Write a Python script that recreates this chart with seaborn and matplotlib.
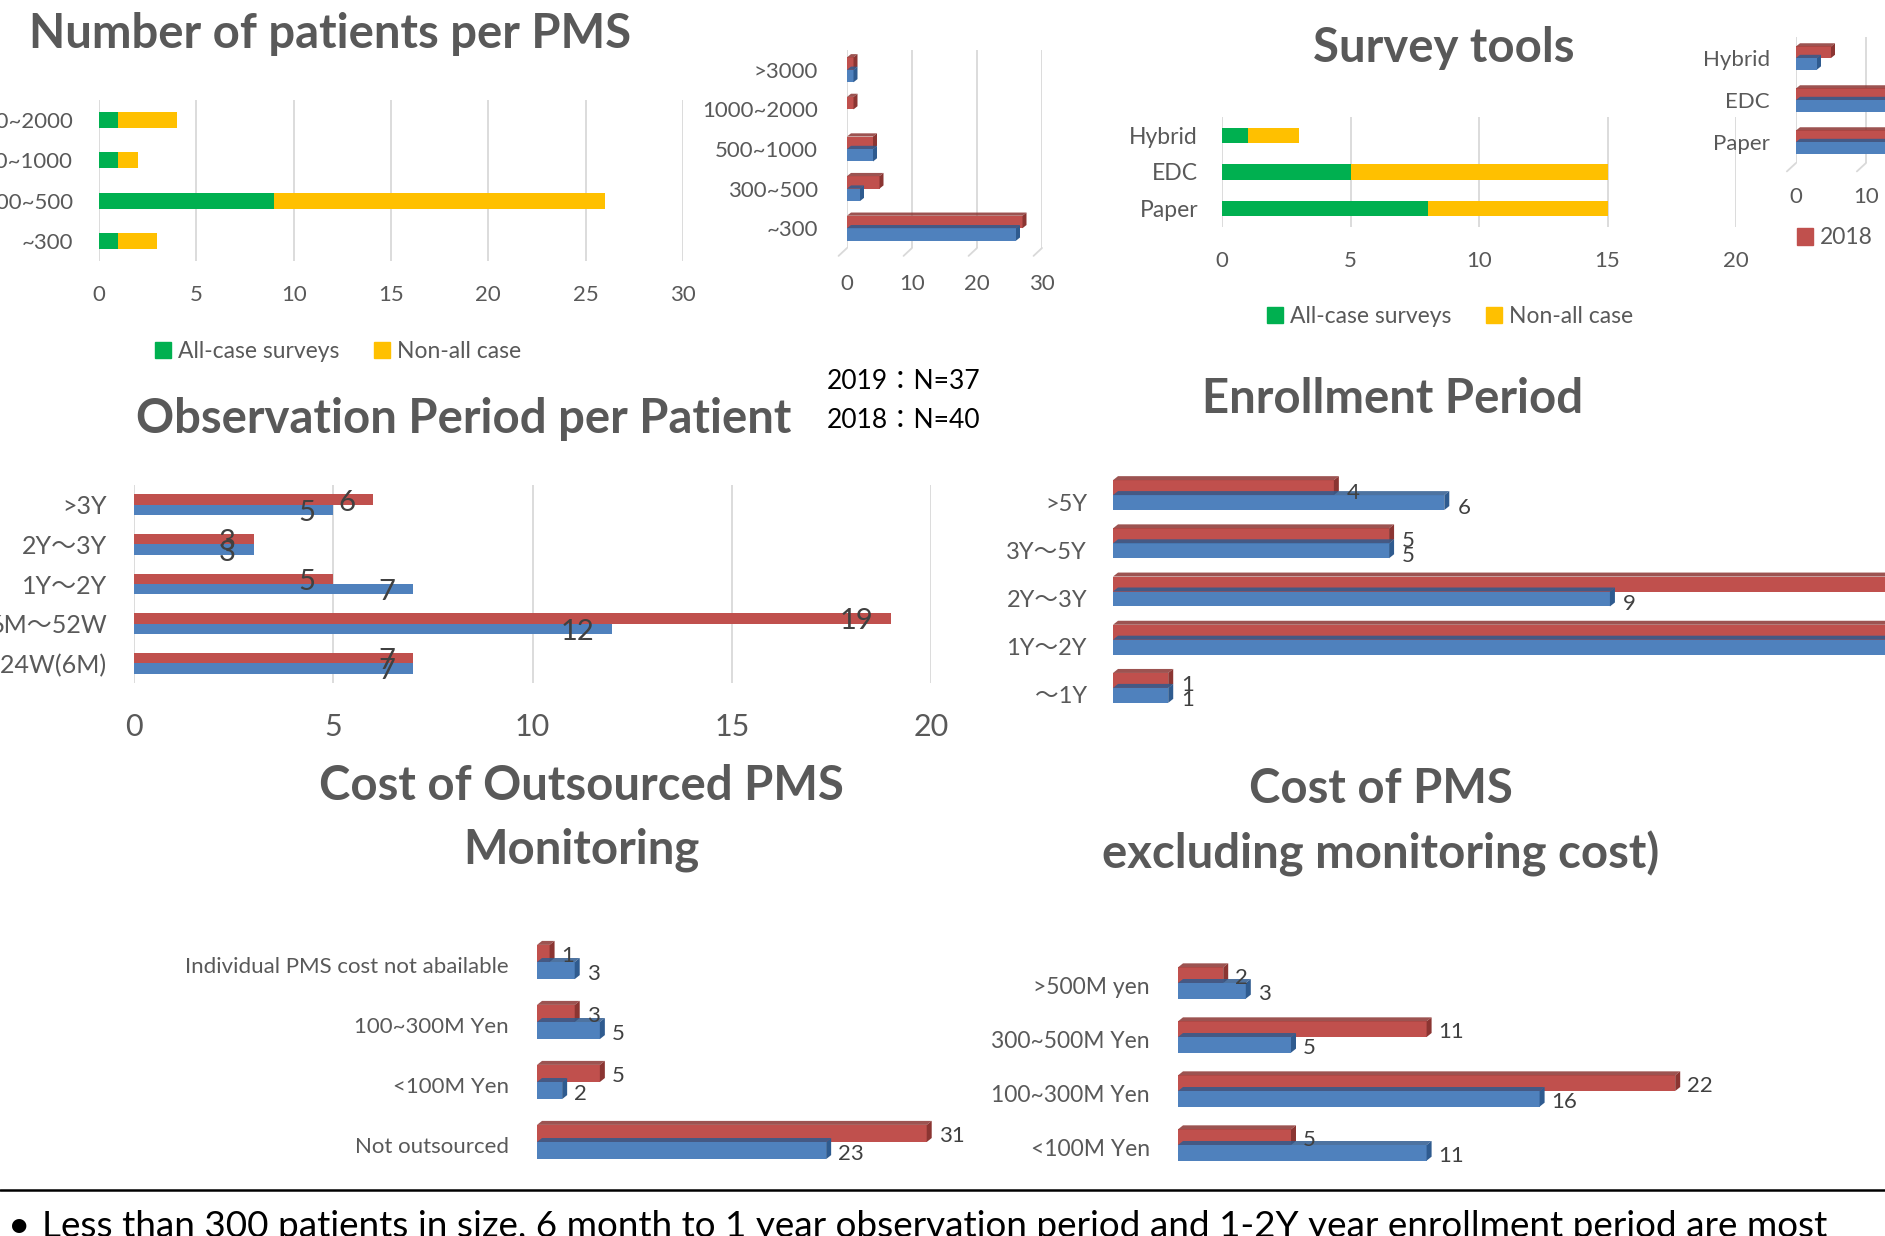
import pandas as pd
import seaborn as sns
import matplotlib.pyplot as plt
from matplotlib.patches import Patch, Polygon
from matplotlib.lines import Line2D
from matplotlib.transforms import ScaledTranslation

sns.set_theme(style="white")
plt.rcParams['font.family'] = ['Lato', 'Noto Sans CJK JP', 'DejaVu Sans']

# ---------------- data ----------------
size_cats = ['1000~2000', '500~1000', '300~500', '~300']
size_allcase = [1, 1, 9, 1]
size_nonall = [3, 1, 17, 2]

size3d_cats = ['>3000', '1000~2000', '500~1000', '300~500', '~300']
size3d_2018 = [1, 1, 4, 5, 27]
size3d_2019 = [1, 0, 4, 2, 26]

tool_cats = ['Hybrid', 'EDC', 'Paper']
tool_allcase = [1, 5, 8]
tool_nonall = [2, 10, 7]
tool_2018 = [5, 17, 18]
tool_2019 = [3, 15, 15]

obs_cats = ['>3Y', '2Y～3Y', '1Y～2Y', '6M～52W', '～24W(6M)']
obs_2018 = [6, 3, 5, 19, 7]
obs_2019 = [5, 3, 7, 12, 7]

enr_cats = ['>5Y', '3Y～5Y', '2Y～3Y', '1Y～2Y', '～1Y']
enr_2018 = [4, 5, 14, 16, 1]
enr_2019 = [6, 5, 9, 16, 1]

out_cats = ['Individual PMS cost not abailable', '100~300M Yen', '<100M Yen', 'Not outsourced']
out_2018 = [1, 3, 5, 31]
out_2019 = [3, 5, 2, 23]

pms_cats = ['>500M yen', '300~500M Yen', '100~300M Yen', '<100M Yen']
pms_2018 = [2, 11, 22, 5]
pms_2019 = [3, 5, 16, 11]

years = ['2018', '2019']

# ---------------- style ----------------
GREEN, YELLOW = '#00B050', '#FFC000'
RED, BLUE = '#C0504D', '#4F81BD'
RED_D, BLUE_D = '#8B3532', '#2F5B8F'
GRAY = '#595959'
LBL = '#404040'
GRID = '#D9D9D9'

W, H = 1885, 1236
fig = plt.figure(figsize=(W / 100, H / 100), dpi=100)
fig.patch.set_facecolor('white')


def px_axes(x0, y0, x1, y1):
    ax = fig.add_axes([x0 / W, 1 - y1 / H, (x1 - x0) / W, (y1 - y0) / H])
    ax.set_facecolor('none')
    return ax


def pt(px):
    return px * 72 / 100


def clean(ax, ysize, ypad, xsize=None, xpad=0, grid=True):
    sns.despine(ax=ax, left=True, bottom=True, top=True, right=True)
    ax.set_xlabel('')
    ax.set_ylabel('')
    ax.tick_params(axis='y', length=0, pad=pt(ypad), labelsize=ysize, labelcolor=GRAY)
    if xsize:
        ax.tick_params(axis='x', length=0, pad=pt(xpad), labelsize=xsize, labelcolor=GRAY)
    else:
        ax.set_xticks([])
    if grid:
        ax.grid(axis='x', color=GRID, lw=1.3)
        ax.set_axisbelow(True)


def shift_ylabels(ax, dy):
    off = ScaledTranslation(0, -dy / 100, fig.dpi_scale_trans)
    for lab in ax.get_yticklabels():
        lab.set_transform(lab.get_transform() + off)


def stacked(ax, cats, a, b, xmax, step, width):
    tot = [i + j for i, j in zip(a, b)]
    sns.barplot(x=tot, y=cats, color=YELLOW, width=width, saturation=1, linewidth=0, ax=ax)
    sns.barplot(x=a, y=cats, color=GREEN, width=width, saturation=1, linewidth=0, ax=ax)
    ax.set_xlim(0, xmax)
    ax.set_ylim(len(cats) - 0.5, -0.5)
    ax.set_xticks(range(0, xmax + 1, step))


def paired(ax, cats, r, b, width):
    df = pd.DataFrame({'cat': cats * 2, 'val': r + b,
                       'year': [years[0]] * len(cats) + [years[1]] * len(cats)})
    sns.barplot(data=df, x='val', y='cat', hue='year', hue_order=years,
                palette={years[0]: RED, years[1]: BLUE}, width=width,
                saturation=1, linewidth=0, legend=False, ax=ax)
    ax.set_ylim(len(cats) - 0.5, -0.5)


def bevel(ax, wpx, hpx, d=4):
    # fake 3D: top and side faces, sizes in pixels
    x0, x1 = ax.get_xlim()
    y0, y1 = ax.get_ylim()
    dx = d * (x1 - x0) / wpx
    dy = d * 0.8 * abs(y1 - y0) / hpx
    for p in list(ax.patches):
        w, y, h = p.get_width(), p.get_y(), p.get_height()
        if w <= 0:
            continue
        dark = RED_D if p.get_facecolor()[0] > 0.6 else BLUE_D
        side = Polygon([(w, y), (w + dx, y - dy), (w + dx, y + h - dy), (w, y + h)],
                       closed=True, fc=dark, ec='none', clip_on=False)
        top = Polygon([(0, y), (w, y), (w + dx, y - dy), (dx, y - dy)],
                      closed=True, fc=dark, ec='none', clip_on=False, alpha=0.85)
        ax.add_patch(side)
        ax.add_patch(top)
    ax.set_xlim(x0, x1)
    ax.set_ylim(y0, y1)


def floor(ax, ticks, dxu, dyu):
    xl, yl = ax.get_xlim(), ax.get_ylim()
    yb = yl[0]
    for t in ticks:
        ax.plot([t, t - dxu], [yb, yb + dyu], color=GRID, lw=1.3, clip_on=False)
    ax.set_xlim(xl)
    ax.set_ylim(yl)


def values(ax, cats, r, b, dx, dy, size, ha='left'):
    bars = [p for p in ax.patches][:2 * len(cats)]
    for p, v in zip(bars, r + b):
        ax.annotate(str(v), (p.get_width(), p.get_y() + p.get_height() / 2),
                    xytext=(dx, -dy), textcoords='offset pixels', ha=ha, va='center',
                    fontsize=size, color=LBL, annotation_clip=False)


def title(x, y, s, size=34):
    fig.text(x / W, 1 - y / H, s, ha='center', va='center', fontsize=size,
             fontweight='bold', color=GRAY, linespacing=1.55)


def legend_green(x, y):
    fig.legend([Patch(color=GREEN), Patch(color=YELLOW)], ['All-case surveys', 'Non-all case'],
               loc='center', bbox_to_anchor=(x / W, 1 - y / H), ncol=2, frameon=False,
               fontsize=16.5, handlelength=0.7, handleheight=0.7, handletextpad=0.3,
               columnspacing=1.5, labelcolor=GRAY)


# ---------- Number of patients per PMS (stacked) ----------
title(330, 34, 'Number of patients per PMS')
ax1 = px_axes(99, 100, 683, 261)
stacked(ax1, size_cats, size_allcase, size_nonall, 30, 5, 0.4)
clean(ax1, 16, 26, 16, 24)
legend_green(338, 352)

# ---------- 3D patients per PMS (2018 / 2019) ----------
ax2 = px_axes(847, 50, 1042, 248)
paired(ax2, size3d_cats, size3d_2018, size3d_2019, 0.63)
ax2.set_xlim(0, 30)
ax2.set_xticks(range(0, 31, 10))
clean(ax2, 16, 29, 16, 26)
floor(ax2, range(0, 31, 10), 1.3, 0.2)
bevel(ax2, 195, 198)

# ---------- Survey tools (stacked) ----------
title(1444, 48, 'Survey tools')
ax3 = px_axes(1222, 117, 1736, 227)
stacked(ax3, tool_cats, tool_allcase, tool_nonall, 20, 5, 0.41)
clean(ax3, 16.5, 24, 16, 24)
legend_green(1450, 317)

# ---------- Survey tools 3D (2018 / 2019) ----------
ax4 = px_axes(1796, 37, 1936, 163)
paired(ax4, tool_cats, tool_2018, tool_2019, 0.55)
ax4.set_xlim(0, 20)
ax4.set_xticks(range(0, 21, 10))
clean(ax4, 16, 26, 16, 24)
floor(ax4, range(0, 21, 10), 1.3, 0.2)
bevel(ax4, 140, 126)
ax4.legend([Patch(color=RED), Patch(color=BLUE)], years, loc='center left',
           bbox_to_anchor=(1776 / W, 1 - 238 / H), bbox_transform=fig.transFigure,
           ncol=2, frameon=False, fontsize=16.5, handlelength=0.7, handleheight=0.7,
           handletextpad=0.3, columnspacing=1.6, labelcolor=GRAY)

# ---------- Observation Period per Patient ----------
title(464, 419, 'Observation Period per Patient')
fig.text(827 / W, 1 - 382 / H, '2019：N=37', ha='left', va='center', fontsize=19, color='black')
fig.text(827 / W, 1 - 421 / H, '2018：N=40', ha='left', va='center', fontsize=19, color='black')
ax5 = px_axes(134, 485, 931, 683)
paired(ax5, obs_cats, obs_2018, obs_2019, 0.53)
ax5.set_xlim(0, 20)
ax5.set_xticks(range(0, 21, 5))
clean(ax5, 18, 27, 22, 30)
values(ax5, obs_cats, obs_2018, obs_2019, -18, 3, 21, ha='right')

# ---------- Enrollment Period ----------
title(1393, 399, 'Enrollment Period')
ax6 = px_axes(1113, 471, 1886, 712)
paired(ax6, enr_cats, enr_2018, enr_2019, 0.62)
ax6.set_xlim(0, 14)
clean(ax6, 17, 26, grid=False)
shift_ylabels(ax6, 7)
values(ax6, enr_cats, enr_2018, enr_2019, 13, 5, 16)
bevel(ax6, 773, 241, 5)

# ---------- Cost of Outsourced PMS Monitoring ----------
title(581, 818, 'Cost of Outsourced PMS\nMonitoring')
ax7 = px_axes(537, 932, 977, 1172)
paired(ax7, out_cats, out_2018, out_2019, 0.57)
ax7.set_xlim(0, 35)
clean(ax7, 16, 28, grid=False)
shift_ylabels(ax7, 3)
values(ax7, out_cats, out_2018, out_2019, 12, 3, 16)
bevel(ax7, 440, 240, 5)

# ---------- Cost of PMS ----------
title(1381, 822, 'Cost of PMS\nexcluding monitoring cost)')
ax8 = px_axes(1178, 956, 1743, 1172)
paired(ax8, pms_cats, pms_2018, pms_2019, 0.58)
ax8.set_xlim(0, 25)
clean(ax8, 16.5, 28, grid=False)
shift_ylabels(ax8, 2)
values(ax8, pms_cats, pms_2018, pms_2019, 12, 3, 16)
bevel(ax8, 565, 216, 5)

# ---------- footer ----------
fig.add_artist(Line2D([0, 1], [1 - 1190 / H] * 2, color='black', lw=1.8))
fig.text(8 / W, 1 - 1237 / H, '•', ha='left', va='baseline', fontsize=28, color='black')
fig.text(42 / W, 1 - 1237 / H,
         'Less than 300 patients in size, 6 month to 1 year observation period and '
         '1-2Y year enrollment period are most',
         ha='left', va='baseline', fontsize=26.6, color='black')

fig.savefig('out.png', dpi=100, facecolor='white')
